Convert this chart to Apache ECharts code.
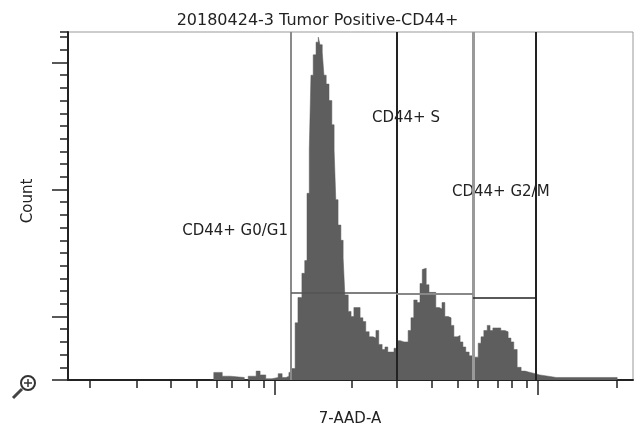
<!DOCTYPE html>
<html>
<head>
<meta charset="utf-8">
<script src="https://cdn.jsdelivr.net/npm/echarts@6/dist/echarts.min.js"></script>
<style>
  html, body { margin: 0; padding: 0; background: #fff; }
  #chart { width: 635px; height: 427px; }
</style>
</head>
<body>
<div id="chart"></div>
<script>
// histogram: channel (0-1000) and count holding from that channel
const channels = [251, 258, 273, 287, 312, 319, 333, 340, 350, 361, 372, 379, 386, 391, 396, 402, 407, 414, 419, 423,
  427, 430, 434, 439, 443, 446, 450, 453, 457, 462, 467, 471, 474, 478, 483, 487, 490, 496, 501, 506,
  512, 517, 522, 527, 533, 540, 545, 550, 556, 561, 566, 572, 577, 582, 588, 595, 602, 607, 612, 618,
  623, 627, 630, 634, 639, 646, 651, 657, 662, 667, 673, 678, 683, 689, 694, 699, 704, 710, 715, 720,
  726, 731, 736, 742, 747, 752, 759, 766, 773, 779, 784, 789, 795, 802, 809, 818, 827, 835, 850, 864,
  880, 897, 915, 933, 950, 972]
const counts = [0, 6, 3, 2, 0, 3, 7, 4, 1, 2, 5, 2, 3, 6, 9, 45, 65, 84, 94, 147,
  181, 240, 256, 266, 270, 264, 258, 240, 233, 220, 201, 181, 142, 122, 110, 96, 67, 54, 50, 57,
  57, 49, 46, 38, 34, 33, 39, 28, 24, 26, 22, 22, 25, 31, 30, 30, 39, 49, 63, 61,
  76, 87, 88, 75, 69, 69, 57, 56, 61, 50, 49, 43, 34, 35, 30, 26, 22, 19, 16, 18,
  29, 34, 39, 43, 39, 41, 41, 39, 38, 33, 30, 24, 10, 7, 6, 5, 4, 3, 2, 2,
  2, 2, 2, 2, 2, 0]

// gates: name, from, to, level of the bar
const gateNames = ['CD44+ G0/G1', 'CD44+ S', 'CD44+ G2/M']
const gateFrom = [395, 581, 717]
const gateTo = [581, 717, 827]
const gateLevel = [69, 68, 65]

// axis ticks (no labels shown)
const xMinorTicks = [39, 122, 181, 227, 264, 290, 320, 347, 503, 582, 644, 690, 726, 761, 786, 812, 972]
const xMajorTicks = [366, 832]
const yMajorTicks = [0, 50, 150, 250]

const title = '20180424-3 Tumor Positive-CD44+'
const xName = '7-AAD-A'
const yName = 'Count'

const font = 'DejaVu Sans'
const ink = '#222'

let chart = echarts.init(document.getElementById('chart'))

let histData = channels.map((c, i) => [c, counts[i]])

// gate lines: vertical edges and horizontal bars
let vStyle = [
  { color: '#8a8a8a', width: 2, type: 'solid' },
  { color: '#222', width: 2, type: 'solid' },
  { color: '#999', width: 3, type: 'solid' },
  { color: '#222', width: 2, type: 'solid' }
]
let edges = [gateFrom[0], gateFrom[1], gateFrom[2], gateTo[2]]
let markData = edges.map((e, i) => [
  { coord: [e, 0], lineStyle: vStyle[i] },
  { coord: [e, 274] }
])
let hStyle = [
  { color: '#555', width: 1.5, type: 'solid' },
  { color: '#888', width: 2, type: 'solid' },
  { color: '#222', width: 1.5, type: 'solid' }
]
gateNames.forEach((n, i) => {
  markData.push([
    { coord: [gateFrom[i], gateLevel[i]], lineStyle: hStyle[i] },
    { coord: [gateTo[i], gateLevel[i]] }
  ])
})

let option = {
  animation: false,
  grid: {
    left: 68, right: 2, top: 32, bottom: 47,
    show: true, borderColor: '#999', borderWidth: 1
  },
  xAxis: [{
    type: 'value', min: 0, max: 1000,
    axisLine: { lineStyle: { color: ink, width: 2 } },
    axisTick: { show: true, customValues: xMinorTicks, length: 8, lineStyle: { color: ink, width: 1.5 } },
    axisLabel: { show: false, customValues: xMinorTicks },
    splitLine: { show: false }
  }, {
    type: 'value', min: 0, max: 1000, position: 'bottom',
    axisLine: { show: false },
    axisTick: { show: true, customValues: xMajorTicks, length: 15, lineStyle: { color: ink, width: 1.5 } },
    axisLabel: { show: false, customValues: xMajorTicks },
    splitLine: { show: false }
  }],
  yAxis: [{
    type: 'value', min: 0, max: 274, interval: 10,
    axisLine: { show: true, lineStyle: { color: ink, width: 2 } },
    axisTick: { show: true, length: 8, lineStyle: { color: ink, width: 1.5 } },
    axisLabel: { show: false },
    splitLine: { show: false }
  }, {
    type: 'value', min: 0, max: 274, position: 'left',
    axisLine: { show: false },
    axisTick: { show: true, customValues: yMajorTicks, length: 16, lineStyle: { color: ink, width: 1.5 } },
    axisLabel: { show: false, customValues: yMajorTicks },
    splitLine: { show: false }
  }],
  series: [{
    type: 'line',
    step: 'end',
    data: histData,
    symbol: 'none',
    lineStyle: { width: 0.5, color: '#5a5a5a' },
    areaStyle: { color: '#5e5e5e', opacity: 1 },
    markLine: {
      silent: true,
      symbol: 'none',
      label: { show: false },
      data: markData
    }
  }],
  graphic: [
    { type: 'text', left: 'center', top: 13, style: { text: title, font: '16px "' + font + '"', fill: ink } },
    { type: 'text', x: 288, y: 231, style: { text: gateNames[0], font: '15px "' + font + '"', fill: ink, align: 'right', verticalAlign: 'middle' } },
    { type: 'text', x: 372, y: 118, style: { text: gateNames[1], font: '15px "' + font + '"', fill: ink, align: 'left', verticalAlign: 'middle' } },
    { type: 'text', x: 452, y: 192, style: { text: gateNames[2], font: '15px "' + font + '"', fill: ink, align: 'left', verticalAlign: 'middle' } },
    { type: 'text', x: 350, y: 419, style: { text: xName, font: '15px "' + font + '"', fill: ink, align: 'center', verticalAlign: 'middle' } },
    { type: 'text', x: 28, y: 201, rotation: Math.PI / 2, style: { text: yName, font: '15px "' + font + '"', fill: ink, align: 'center', verticalAlign: 'middle' } },
    // zoom glass
    { type: 'circle', shape: { cx: 28, cy: 383, r: 7 }, style: { fill: 'none', stroke: '#333', lineWidth: 2 } },
    { type: 'line', shape: { x1: 24, y1: 383, x2: 32, y2: 383 }, style: { stroke: '#333', lineWidth: 1.5 } },
    { type: 'line', shape: { x1: 28, y1: 379, x2: 28, y2: 387 }, style: { stroke: '#333', lineWidth: 1.5 } },
    { type: 'line', shape: { x1: 22, y1: 389, x2: 13, y2: 398 }, style: { stroke: '#444', lineWidth: 3 } }
  ]
}
chart.setOption(option)
</script>
</body>
</html>
